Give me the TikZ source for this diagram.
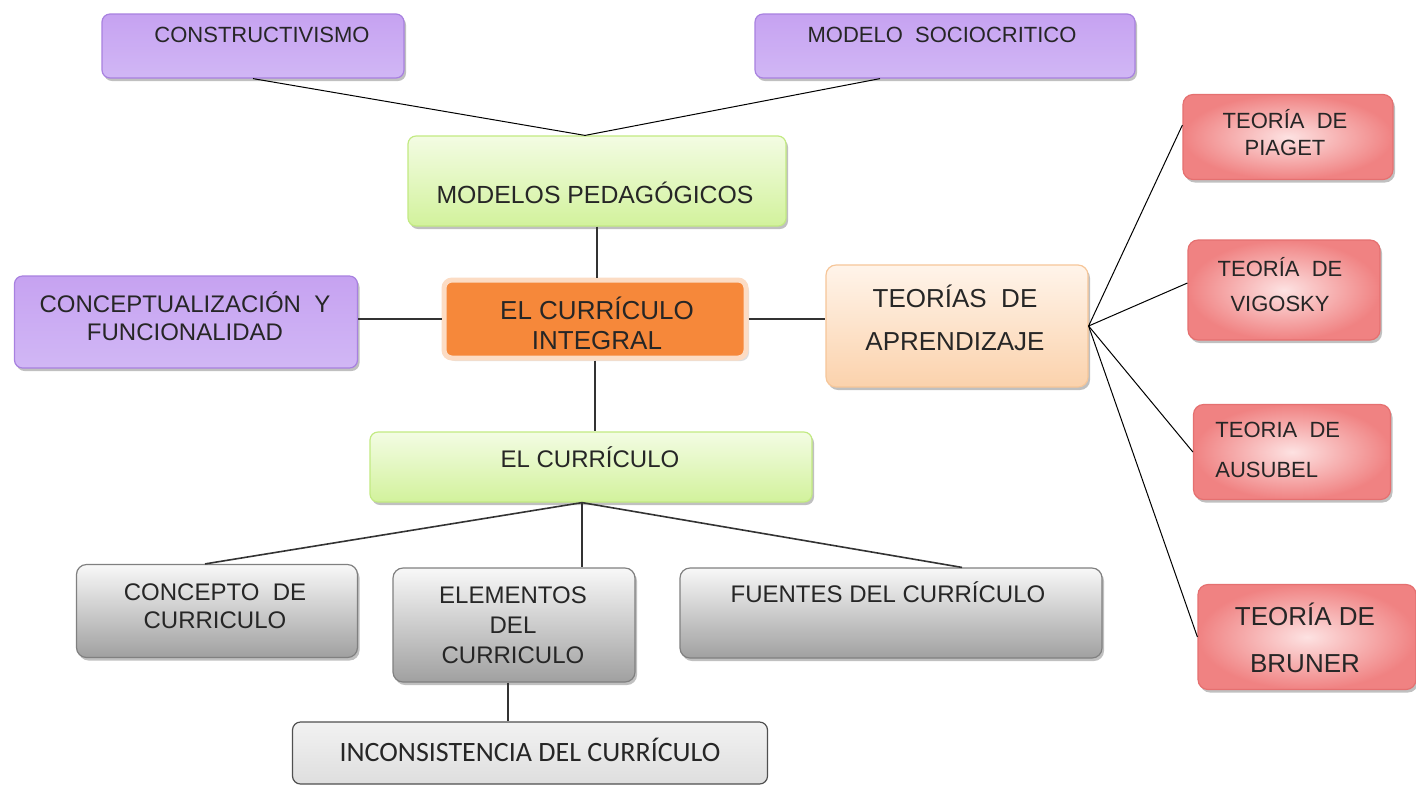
\documentclass[tikz,border=0pt]{standalone}
\usepackage{fontspec}
\setmainfont{Liberation Sans}
\newfontfamily\calib{Carlito}
\usetikzlibrary{shadows,calc}
\definecolor{txt}{HTML}{262626}
\definecolor{purpT}{HTML}{C6A2F1}
\definecolor{purpM}{HTML}{EEE4FD}
\definecolor{purpB}{HTML}{D1B7F5}
\definecolor{purpE}{HTML}{A881E0}
\definecolor{grnT}{HTML}{F3FCE3}
\definecolor{grnB}{HTML}{D2F29C}
\definecolor{grnE}{HTML}{C2EA82}
\definecolor{orgF}{HTML}{F6883A}
\definecolor{orgE}{HTML}{FCDCC4}
\definecolor{pchT}{HTML}{FFF4EA}
\definecolor{pchB}{HTML}{FBD2AC}
\definecolor{pchE}{HTML}{F6C699}
\definecolor{redI}{HTML}{FDE2E2}
\definecolor{redO}{HTML}{F08282}
\definecolor{redE}{HTML}{E57070}
\definecolor{gryT}{HTML}{F8F8F8}
\definecolor{gryB}{HTML}{A0A0A0}
\definecolor{gryE}{HTML}{808080}
\definecolor{incF}{HTML}{F2F2F2}
\definecolor{incB}{HTML}{DEDEDE}
\definecolor{incE}{HTML}{505050}
\tikzset{
  shd/.style={drop shadow={shadow xshift=1pt,shadow yshift=-1.5pt,opacity=0.35,fill=black!70}},
  purpbox/.style={shd,rounded corners=4pt,draw=purpE,line width=0.6pt,top color=purpT,middle color=purpM,bottom color=purpB},
  grnbox/.style={shd,rounded corners=4pt,draw=grnE,line width=0.6pt,top color=grnT,bottom color=grnB},
  orgbox/.style={rounded corners=4pt,draw=orgE,line width=2.5pt,fill=orgF,drop shadow={shadow xshift=1.5pt,shadow yshift=-1.5pt,opacity=0.25}},
  pchbox/.style={shd,rounded corners=5pt,draw=pchE,line width=0.6pt,top color=pchT,bottom color=pchB},
  redbox/.style={shd,rounded corners=5pt,draw=redE,line width=0.6pt,inner color=redI,outer color=redO},
  grybox/.style={shd,rounded corners=5pt,draw=gryE,line width=0.6pt,top color=gryT,bottom color=gryB},
  incbox/.style={rounded corners=4pt,draw=incE,line width=0.6pt,top color=incF,bottom color=incB},
  lbl/.style={text=txt,align=center,inner sep=0pt},
  conn/.style={draw=black,line width=0.5pt},
  conn2/.style={draw=black!80,line width=0.8pt}
}
\begin{document}
\begin{tikzpicture}[x=0.5pt,y=-0.5pt]
\useasboundingbox (0,0) rectangle (1416,784);
\fill[white] (0,0) rectangle (1416,784);

% boxes
\node[purpbox,minimum width=151pt,minimum height=32pt] (cons) at (253,46) {};
\node[purpbox,minimum width=190pt,minimum height=32pt] (socio) at (945,46) {};
\node[grnbox,minimum width=189pt,minimum height=45pt] (modelos) at (597,181) {};
\node[orgbox,minimum width=151pt,minimum height=39pt] (integral) at (595,319) {};
\node[purpbox,minimum width=171.5pt,minimum height=46pt] (concep) at (186,322) {};
\node[pchbox,minimum width=131pt,minimum height=61pt] (teorias) at (957,326) {};
\node[redbox,minimum width=105pt,minimum height=42.5pt] (piaget) at (1288,137) {};
\node[redbox,minimum width=96pt,minimum height=50pt] (vigosky) at (1284,290) {};
\node[redbox,minimum width=98.5pt,minimum height=47.5pt] (ausubel) at (1292,452) {};
\node[redbox,minimum width=109pt,minimum height=52.5pt] (bruner) at (1307,637) {};
\node[grnbox,minimum width=221pt,minimum height=35pt] (curr) at (591,467) {};
\node[grybox,minimum width=140.5pt,minimum height=46.5pt] (concepto) at (217,611) {};
\node[grybox,minimum width=121pt,minimum height=57pt] (elem) at (514,625) {};
\node[grybox,minimum width=211pt,minimum height=45pt] (fuentes) at (891,613) {};
\node[incbox,minimum width=237.5pt,minimum height=31pt] (incons) at (530,753) {};

% labels
\node[lbl,font=\fontsize{11}{13}\selectfont] (tcons) at (262,35) {CONSTRUCTIVISMO};
\node[lbl,font=\fontsize{11}{13}\selectfont] (tsocio) at (942,35) {MODELO\ \ SOCIOCRITICO};
\node[lbl,font=\fontsize{12.4}{15}\selectfont] (tmodelos) at (595,193) {MODELOS PEDAGÓGICOS};
\node[lbl,font=\fontsize{13}{15}\selectfont] (tintegral) at (597,323) {EL CURRÍCULO\\INTEGRAL};
\node[lbl,font=\fontsize{12}{14}\selectfont] (tconcep) at (185,316) {CONCEPTUALIZACIÓN\ \ Y\\FUNCIONALIDAD};
\node[lbl,font=\fontsize{13}{21.5}\selectfont] (tteorias) at (955,318) {TEORÍAS\ \ DE\\APRENDIZAJE};
\node[lbl,font=\fontsize{11}{13.5}\selectfont] (tpiaget) at (1285,133) {TEORÍA\ \ DE\\PIAGET};
\node[lbl,font=\fontsize{11}{17.5}\selectfont] (tvigosky) at (1280,285) {TEORÍA\ \ DE\\VIGOSKY};
\node[lbl,align=left,anchor=west,font=\fontsize{11}{20}\selectfont] (tausubel) at (1215,450) {TEORIA\ \ DE\\AUSUBEL};
\node[lbl,font=\fontsize{13}{23.5}\selectfont] (tbruner) at (1305,638) {TEORÍA DE\\BRUNER};
\node[lbl,font=\fontsize{12}{14}\selectfont] (tcurr) at (590,457) {EL CURRÍCULO};
\node[lbl,font=\fontsize{12}{14}\selectfont] (tconcepto) at (215,606) {CONCEPTO\ \ DE\\CURRICULO};
\node[lbl,font=\fontsize{12}{15}\selectfont] (telem) at (513,625) {ELEMENTOS\\DEL\\CURRICULO};
\node[lbl,font=\fontsize{12}{14}\selectfont] (tfuentes) at (888,592) {FUENTES DEL CURRÍCULO};
\node[lbl,font=\calib\fontsize{14}{16}\selectfont] (tincons) at (530,750) {INCONSISTENCIA DEL CURRÍCULO};

% connectors
\coordinate (mtop) at ($(modelos.north)+(-12,0)$);
\draw[conn] (cons.south) -- (mtop);
\draw[conn] ($(socio.south)+(-65,0)$) -- (mtop);
\draw[conn2] (modelos.south) -- (modelos.south |- integral.north);
\draw[conn2] (integral.west -| concep.east) -- (integral.west);
\draw[conn2] (integral.east) -- (integral.east -| teorias.west);
\draw[conn] (teorias.east) -- ($(piaget.west)+(0,-12)$);
\draw[conn] (teorias.east) -- ($(vigosky.west)+(0,-7)$);
\draw[conn] (teorias.east) -- (ausubel.west);
\draw[conn] (teorias.east) -- (bruner.west);
\draw[conn2] (integral.south) -- (integral.south |- curr.north);
\coordinate (hub) at ($(curr.south)+(-9,0)$);
\draw[conn2] (hub) -- ($(concepto.north)+(-12,0)$);
\draw[conn2] (hub) -- (hub |- elem.north);
\draw[conn2] (hub) -- ($(fuentes.north)+(71,0)$);
\coordinate (etop) at ($(elem.south)+(-6,0)$);
\draw[conn2] (etop) -- (etop |- incons.north);
\end{tikzpicture}
\end{document}
